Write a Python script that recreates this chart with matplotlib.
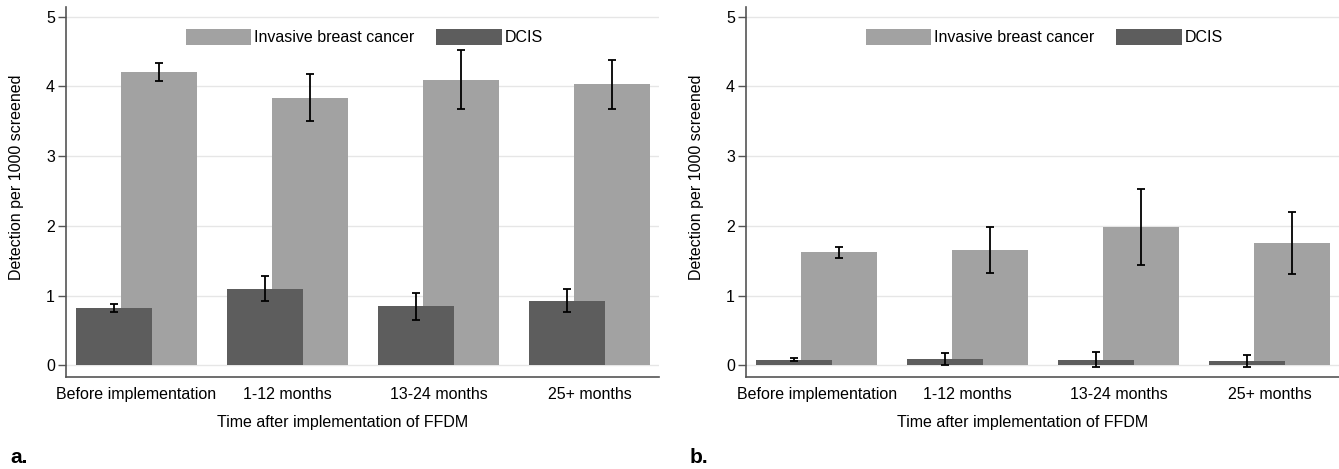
import matplotlib
matplotlib.use('Agg')
import matplotlib.pyplot as plt
import numpy as np

plt.rcParams['font.family'] = ['Liberation Sans', 'DejaVu Sans']

periods = ['Before implementation', '1-12 months', '13-24 months', '25+ months']

# panel a
inv_a = [4.21, 3.84, 4.10, 4.03]
inv_a_lo = [4.08, 3.50, 3.67, 3.68]
inv_a_hi = [4.34, 4.18, 4.53, 4.38]
dcis_a = [0.82, 1.10, 0.85, 0.92]
dcis_a_lo = [0.77, 0.92, 0.65, 0.76]
dcis_a_hi = [0.885, 1.28, 1.04, 1.09]

# panel b
inv_b = [1.62, 1.65, 1.99, 1.75]
inv_b_lo = [1.54, 1.33, 1.44, 1.31]
inv_b_hi = [1.70, 1.98, 2.53, 2.20]
dcis_b = [0.08, 0.09, 0.08, 0.06]
dcis_b_lo = [0.06, 0.01, -0.03, -0.02]
dcis_b_hi = [0.10, 0.17, 0.19, 0.15]

c_inv = '#a2a2a2'
c_dcis = '#5d5d5d'


def panel(ax, inv, inv_lo, inv_hi, dcis, dcis_lo, dcis_hi):
    x = np.arange(len(periods))
    w = 0.5
    off = 0.149
    b1 = ax.bar(x + off, inv, w, color=c_inv, zorder=2, label='Invasive breast cancer')
    b2 = ax.bar(x - off, dcis, w, color=c_dcis, zorder=3, label='DCIS')
    inv = np.array(inv)
    dcis = np.array(dcis)
    ax.errorbar(x + off, inv, yerr=[inv - np.array(inv_lo), np.array(inv_hi) - inv],
                fmt='none', ecolor='black', elinewidth=1.3, capsize=3, capthick=1.3, zorder=4)
    ax.errorbar(x - off, dcis, yerr=[dcis - np.array(dcis_lo), np.array(dcis_hi) - dcis],
                fmt='none', ecolor='black', elinewidth=1.3, capsize=3, capthick=1.3, zorder=4)
    ax.set_xlim(-0.467, 3.46)
    ax.set_ylim(-0.17, 5.14)
    ax.set_yticks([0, 1, 2, 3, 4, 5])
    ax.set_xticks(x)
    ax.set_xticklabels(periods, fontsize=11.5)
    ax.tick_params(axis='x', length=0, pad=7)
    ax.tick_params(axis='y', length=6, width=1, color='#555555', labelsize=11.5, pad=2)
    ax.grid(axis='y', color='#e6e6e6', linewidth=1, zorder=0)
    ax.set_axisbelow(True)
    for s in ['top', 'right']:
        ax.spines[s].set_visible(False)
    for s in ['left', 'bottom']:
        ax.spines[s].set_color('#555555')
        ax.spines[s].set_linewidth(1.2)
    ax.set_ylabel('Detection per 1000 screened', fontsize=11.5)
    ax.yaxis.set_label_coords(-0.071, 0.54)
    ax.set_xlabel('Time after implementation of FFDM', fontsize=11.5)
    ax.xaxis.set_label_coords(0.467, -0.103)
    ax.legend(handles=[b1, b2], loc='center', bbox_to_anchor=(0.503, 0.919), ncol=2,
              frameon=False, fontsize=11.5, handlelength=4.1, handleheight=1.15,
              handletextpad=0.2, columnspacing=1.35, borderpad=0)


fig = plt.figure(figsize=(13.39, 4.69), dpi=100)
ax1 = fig.add_axes([0.0493, 0.196, 0.4429, 0.789])
ax2 = fig.add_axes([0.5572, 0.196, 0.4429, 0.789])
panel(ax1, inv_a, inv_a_lo, inv_a_hi, dcis_a, dcis_a_lo, dcis_a_hi)
panel(ax2, inv_b, inv_b_lo, inv_b_hi, dcis_b, dcis_b_lo, dcis_b_hi)

fig.text(0.0075, 0.012, 'a.', fontsize=15, fontweight='bold')
fig.text(0.515, 0.012, 'b.', fontsize=15, fontweight='bold')

fig.savefig('out.png', dpi=100)
